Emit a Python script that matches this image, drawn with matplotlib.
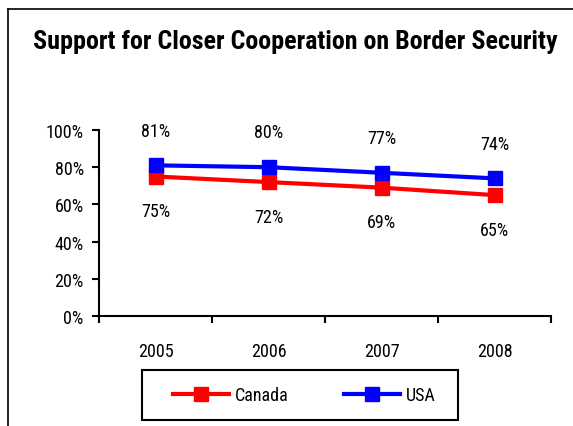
import matplotlib
matplotlib.use("Agg")
import matplotlib.pyplot as plt
from matplotlib.lines import Line2D
from matplotlib.patches import Rectangle
from matplotlib import font_manager

years = ["2005", "2006", "2007", "2008"]
canada = [75, 72, 69, 65]
usa = [81, 80, 77, 74]
yticks = [0, 20, 40, 60, 80, 100]
ytick_labels = ["0%", "20%", "40%", "60%", "80%", "100%"]
title = "Support for Closer Cooperation on Border Security"

fl = font_manager.fontManager.ttflist
names = {f.name for f in fl}
stretch = "normal"
fam = None
for cand in ["Roboto Condensed", "Open Sans Condensed", "Liberation Sans Narrow",
             "Noto Sans Condensed", "Noto Sans Display Condensed", "Ubuntu Condensed"]:
    if cand in names:
        fam = cand
        break
if fam is None:
    cond = [f for f in fl if f.name == "DejaVu Sans" and str(f.stretch) in ("condensed", "semi-condensed", "500")]
    if cond:
        fam = "DejaVu Sans"
        stretch = "condensed"
if fam is None:
    others = [f.name for f in fl if ("Condensed" in f.name or "Narrow" in f.name)]
    fam = others[0] if others else "Roboto"
plt.rcParams['font.family'] = [fam, 'DejaVu Sans']
plt.rcParams['font.stretch'] = stretch

W, H = 573, 427
fig = plt.figure(figsize=(W / 100, H / 100), dpi=100)

def fx(px):
    return px / W

def fy(py):
    return 1 - py / H

fig.add_artist(Line2D([fx(8), fx(8)], [fy(10), 0], transform=fig.transFigure, color="black", lw=1.2))
fig.add_artist(Line2D([fx(8), 1], [fy(10), fy(10)], transform=fig.transFigure, color="black", lw=1.2))

t = fig.text(fx(295), fy(42), title, ha="center", va="center", fontsize=21, fontweight="bold")
renderer = fig.canvas.get_renderer()
tw = t.get_window_extent(renderer).width
if tw > 525:
    t.set_fontsize(21 * 525 / tw)

ax = fig.add_axes([fx(99), fy(317), fx(551) - fx(99), fy(131) - fy(317)])
x = list(range(len(years)))
ax.plot(x, canada, color="#FF0000", lw=3, marker="s", ms=10.5, label="Canada", zorder=3)
ax.plot(x, usa, color="#0000FF", lw=3, marker="s", ms=10.5, label="USA", zorder=4)

fs = 13
for xi, v in zip(x, canada):
    ax.annotate(f"{v}%", (xi, v), xytext=(0, -25), textcoords="offset points",
                ha="center", va="center", fontsize=fs)
for xi, v in zip(x, usa):
    ax.annotate(f"{v}%", (xi, v), xytext=(0, 25), textcoords="offset points",
                ha="center", va="center", fontsize=fs)

ax.set_xlim(-0.5, len(years) - 0.5)
ax.set_ylim(0, 100)
ax.set_yticks(yticks)
ax.set_yticklabels(ytick_labels, fontsize=fs)
ax.set_xticks([i - 0.5 for i in range(len(years) + 1)])
ax.set_xticklabels([])
ax.set_xticks(x, minor=True)
ax.set_xticklabels(years, minor=True, fontsize=fs)
ax.tick_params(axis="x", which="minor", length=0, pad=19)
ax.tick_params(axis="x", which="major", length=5, width=1.5, direction="out")
ax.tick_params(axis="y", length=5, width=1.5, direction="out", pad=6)
for s in ["top", "right"]:
    ax.spines[s].set_visible(False)
for s in ["left", "bottom"]:
    ax.spines[s].set_linewidth(1.5)

# legend box
fig.add_artist(Rectangle((fx(142), fy(421)), fx(458) - fx(142), fy(371) - fy(421),
                         transform=fig.transFigure, fill=False, edgecolor="black", lw=1.5))
leg = fig.legend(loc="center left", bbox_to_anchor=(fx(173), fy(396)), ncol=2, fontsize=fs,
                 frameon=False, handlelength=3.1, columnspacing=3.1, borderpad=0,
                 handletextpad=0.3, borderaxespad=0)

fig.savefig("out.png", dpi=100)
